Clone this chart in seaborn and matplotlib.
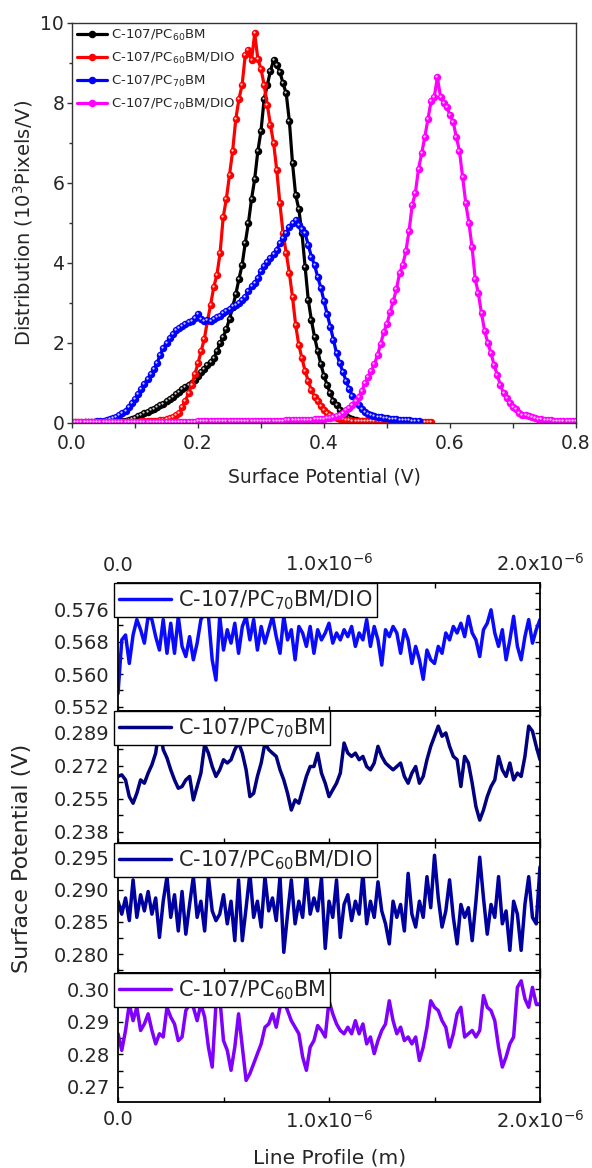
import numpy as np
import matplotlib
matplotlib.use("Agg")
import matplotlib.pyplot as plt
import seaborn as sns
from matplotlib import transforms
from matplotlib.ticker import (MultipleLocator, FixedLocator, FixedFormatter,
                               FormatStrFormatter, AutoMinorLocator)

# ---------------- top chart: surface potential distributions ----------------
DIST_STEP = 0.005  # V between histogram bins

pc60_start = 0.05
pc60_dist = [0.02, 0.03, 0.03, 0.03, 0.03, 0.04, 0.04, 0.06, 0.08, 0.11,
             0.13, 0.17, 0.20, 0.24, 0.28, 0.32, 0.36, 0.40, 0.44, 0.48,
             0.54, 0.60, 0.66, 0.72, 0.78, 0.84, 0.90, 0.95, 1.00, 1.08,
             1.18, 1.28, 1.36, 1.44, 1.52, 1.62, 1.80, 1.99, 2.15, 2.35,
             2.60, 2.90, 3.22, 3.60, 3.95, 4.50, 5.00, 5.60, 6.10, 6.80,
             7.30, 8.10, 8.45, 8.80, 9.07, 8.95, 8.78, 8.49, 8.24, 7.55,
             6.50, 5.70, 5.35, 4.74, 3.91, 3.08, 2.57, 2.15, 1.80, 1.47,
             1.18, 0.95, 0.74, 0.55, 0.44, 0.33, 0.25, 0.17, 0.12, 0.09,
             0.07, 0.05, 0.04, 0.04, 0.03, 0.03, 0.02]

pc60dio_start = 0.0
pc60dio_dist = [0.02, 0.02, 0.02, 0.02, 0.02, 0.02, 0.02, 0.02, 0.03, 0.03,
                0.03, 0.03, 0.03, 0.03, 0.03, 0.03, 0.03, 0.03, 0.03, 0.03,
                0.03, 0.03, 0.04, 0.04, 0.05, 0.05, 0.06, 0.06, 0.07, 0.08,
                0.10, 0.12, 0.15, 0.19, 0.24, 0.40, 0.56, 0.74, 0.95, 1.22,
                1.49, 1.80, 2.10, 2.55, 2.95, 3.40, 3.70, 4.24, 5.15, 5.60,
                6.20, 6.80, 7.60, 8.10, 8.45, 9.20, 9.32, 9.07, 9.74, 9.10,
                8.85, 8.45, 7.95, 7.45, 7.00, 6.32, 5.49, 4.75, 4.25, 3.75,
                3.15, 2.45, 1.95, 1.62, 1.30, 1.05, 0.82, 0.66, 0.54, 0.42,
                0.32, 0.25, 0.20, 0.16, 0.13, 0.11, 0.09, 0.08, 0.07, 0.06,
                0.06, 0.05, 0.05, 0.05, 0.05, 0.04, 0.04, 0.04, 0.04, 0.04,
                0.04, 0.04, 0.04, 0.04, 0.04, 0.04, 0.04, 0.03, 0.03, 0.03,
                0.03, 0.03, 0.03, 0.03, 0.03]

pc70_start = 0.02
pc70_dist = [0.02, 0.02, 0.03, 0.03, 0.04, 0.04, 0.06, 0.07, 0.09, 0.12,
             0.16, 0.20, 0.25, 0.31, 0.40, 0.50, 0.60, 0.72, 0.85, 0.98,
             1.10, 1.22, 1.35, 1.50, 1.70, 1.88, 2.00, 2.12, 2.22, 2.32,
             2.38, 2.42, 2.47, 2.52, 2.56, 2.62, 2.72, 2.60, 2.55, 2.58,
             2.56, 2.60, 2.64, 2.68, 2.74, 2.80, 2.86, 2.92, 2.96, 3.00,
             3.08, 3.16, 3.30, 3.42, 3.50, 3.62, 3.80, 3.92, 4.02, 4.12,
             4.22, 4.33, 4.50, 4.62, 4.74, 4.90, 5.00, 5.08, 4.95, 4.85,
             4.74, 4.45, 4.16, 3.95, 3.65, 3.38, 3.05, 2.72, 2.41, 2.08,
             1.74, 1.49, 1.28, 1.05, 0.85, 0.68, 0.55, 0.44, 0.34, 0.27,
             0.22, 0.19, 0.17, 0.15, 0.14, 0.13, 0.12, 0.11, 0.10, 0.09,
             0.08, 0.08, 0.07, 0.07, 0.06, 0.06, 0.06]

pc70dio_start = 0.0
pc70dio_dist = [0.03, 0.03, 0.03, 0.03, 0.03, 0.03, 0.03, 0.03, 0.03, 0.03,
                0.03, 0.03, 0.03, 0.03, 0.03, 0.03, 0.03, 0.03, 0.03, 0.03,
                0.03, 0.03, 0.03, 0.03, 0.03, 0.03, 0.03, 0.03, 0.03, 0.03,
                0.03, 0.03, 0.03, 0.03, 0.03, 0.03, 0.03, 0.03, 0.03, 0.03,
                0.04, 0.04, 0.04, 0.04, 0.04, 0.04, 0.04, 0.04, 0.04, 0.04,
                0.04, 0.04, 0.04, 0.04, 0.04, 0.05, 0.05, 0.05, 0.05, 0.05,
                0.05, 0.05, 0.05, 0.06, 0.06, 0.06, 0.06, 0.06, 0.07, 0.07,
                0.07, 0.07, 0.07, 0.08, 0.08, 0.08,
                0.08, 0.09, 0.09, 0.10, 0.11, 0.12, 0.13, 0.15, 0.17, 0.21,
                0.26, 0.32, 0.38, 0.46, 0.55, 0.66, 0.80, 0.99, 1.15, 1.30,
                1.47, 1.70, 1.98, 2.28, 2.48, 2.78, 3.05, 3.35, 3.75, 3.95,
                4.30, 4.80, 5.45, 5.75, 6.35, 6.74, 7.15, 7.60, 8.05, 8.15,
                8.64, 8.15, 8.00, 7.90, 7.70, 7.53, 7.15, 6.80, 6.15, 5.50,
                5.00, 4.40, 3.60, 3.24, 2.74, 2.30, 2.00, 1.75, 1.45, 1.20,
                0.95, 0.74, 0.62, 0.50, 0.41, 0.34, 0.26, 0.21, 0.19, 0.17,
                0.15, 0.13, 0.10, 0.09, 0.08, 0.07, 0.07, 0.06, 0.06, 0.06,
                0.05, 0.05, 0.05, 0.05, 0.05]

dist_labels = ["C-107/PC$_{60}$BM", "C-107/PC$_{60}$BM/DIO",
               "C-107/PC$_{70}$BM", "C-107/PC$_{70}$BM/DIO"]
dist_colors = ["#000000", "#ff0000", "#0000ff", "#ff00ff"]

# ---------------- bottom chart: line profiles ----------------
prof_pc70dio = [0.5552, 0.5684, 0.5696, 0.5626, 0.5696, 0.5734, 0.5709, 0.5676, 0.5742, 0.5734,
                0.5692, 0.5659, 0.5734, 0.5651, 0.5725, 0.5651, 0.5742, 0.5668, 0.5643, 0.5692,
                0.5635, 0.5676, 0.5734, 0.5750, 0.5742, 0.5635, 0.5585, 0.5742, 0.5659, 0.5709,
                0.5676, 0.5725, 0.5651, 0.5717, 0.5742, 0.5684, 0.5734, 0.5659, 0.5717, 0.5676,
                0.5709, 0.5742, 0.5692, 0.5651, 0.5742, 0.5684, 0.5709, 0.5635, 0.5717, 0.5701,
                0.5668, 0.5717, 0.5651, 0.5709, 0.5684, 0.5701, 0.5725, 0.5676, 0.5701, 0.5684,
                0.5709, 0.5692, 0.5717, 0.5668, 0.5701, 0.5684, 0.5734, 0.5668, 0.5717, 0.5684,
                0.5622, 0.5709, 0.5692, 0.5717, 0.5701, 0.5651, 0.5709, 0.5684, 0.5626, 0.5668,
                0.5635, 0.5587, 0.5659, 0.5635, 0.5626, 0.5668, 0.5651, 0.5701, 0.5684, 0.5717,
                0.5701, 0.5725, 0.5692, 0.5742, 0.5701, 0.5684, 0.5643, 0.5709, 0.5725, 0.5758,
                0.5701, 0.5668, 0.5709, 0.5635, 0.5684, 0.5742, 0.5668, 0.5635, 0.5692, 0.5734,
                0.5676, 0.5709, 0.5734]

prof_pc70 = [0.2666, 0.2674, 0.2648, 0.2562, 0.2528, 0.2579, 0.2648, 0.2631, 0.2683, 0.2726,
             0.2786, 0.2925, 0.2804, 0.2761, 0.2700, 0.2648, 0.2605, 0.2614, 0.2648, 0.2666,
             0.2545, 0.2614, 0.2683, 0.2830, 0.2786, 0.2717, 0.2666, 0.2700, 0.2752, 0.2735,
             0.2752, 0.2804, 0.2840, 0.2786, 0.2700, 0.2562, 0.2579, 0.2666, 0.2735, 0.2838,
             0.2804, 0.2786, 0.2769, 0.2700, 0.2648, 0.2579, 0.2493, 0.2545, 0.2528, 0.2597,
             0.2666, 0.2717, 0.2717, 0.2785, 0.2683, 0.2631, 0.2562, 0.2597, 0.2631, 0.2683,
             0.2838, 0.2786, 0.2769, 0.2786, 0.2752, 0.2769, 0.2717, 0.2700, 0.2735, 0.2821,
             0.2769, 0.2735, 0.2717, 0.2700, 0.2717, 0.2735, 0.2666, 0.2631, 0.2683, 0.2717,
             0.2631, 0.2666, 0.2752, 0.2821, 0.2873, 0.2925, 0.2873, 0.2890, 0.2821, 0.2769,
             0.2752, 0.2614, 0.2769, 0.2735, 0.2631, 0.2510, 0.2441, 0.2493, 0.2562, 0.2614,
             0.2648, 0.2769, 0.2700, 0.2666, 0.2735, 0.2648, 0.2683, 0.2666, 0.2769, 0.2925,
             0.2899, 0.2821, 0.2752]

prof_pc60dio = [0.2882, 0.2862, 0.2887, 0.2852, 0.2915, 0.2857, 0.2892, 0.2867, 0.2897, 0.2862,
                0.2887, 0.2826, 0.2882, 0.2920, 0.2857, 0.2892, 0.2836, 0.2897, 0.2831, 0.2877,
                0.2920, 0.2857, 0.2882, 0.2836, 0.2920, 0.2867, 0.2852, 0.2862, 0.2892, 0.2847,
                0.2882, 0.2821, 0.2915, 0.2821, 0.2872, 0.2925, 0.2857, 0.2882, 0.2842, 0.2920,
                0.2867, 0.2887, 0.2852, 0.2920, 0.2803, 0.2862, 0.2915, 0.2847, 0.2882, 0.2857,
                0.2925, 0.2862, 0.2887, 0.2867, 0.2918, 0.2809, 0.2882, 0.2857, 0.2915, 0.2826,
                0.2877, 0.2892, 0.2852, 0.2882, 0.2862, 0.2925, 0.2847, 0.2882, 0.2857, 0.2912,
                0.2867, 0.2847, 0.2816, 0.2882, 0.2857, 0.2877, 0.2836, 0.2925, 0.2862, 0.2842,
                0.2882, 0.2857, 0.2920, 0.2872, 0.2953, 0.2887, 0.2842, 0.2867, 0.2915, 0.2857,
                0.2816, 0.2877, 0.2857, 0.2872, 0.2821, 0.2882, 0.2950, 0.2887, 0.2831, 0.2877,
                0.2857, 0.2920, 0.2847, 0.2867, 0.2806, 0.2882, 0.2862, 0.2806, 0.2877, 0.2920,
                0.2857, 0.2847, 0.2935]

prof_pc60 = [0.2863, 0.2812, 0.2873, 0.2954, 0.2903, 0.2944, 0.2873, 0.2893, 0.2924, 0.2873,
             0.2832, 0.2863, 0.2853, 0.2944, 0.2914, 0.2893, 0.2842, 0.2853, 0.2934, 0.2954,
             0.2944, 0.2903, 0.2954, 0.2914, 0.2822, 0.2761, 0.2954, 0.2975, 0.2842, 0.2812,
             0.2751, 0.2822, 0.2924, 0.2822, 0.2720, 0.2741, 0.2771, 0.2802, 0.2832, 0.2883,
             0.2893, 0.2924, 0.2883, 0.2944, 0.2964, 0.2934, 0.2903, 0.2883, 0.2863, 0.2792,
             0.2751, 0.2822, 0.2842, 0.2888, 0.2873, 0.2853, 0.2964, 0.2924, 0.2893, 0.2873,
             0.2863, 0.2883, 0.2863, 0.2903, 0.2863, 0.2893, 0.2832, 0.2853, 0.2802, 0.2842,
             0.2873, 0.2893, 0.2964, 0.2903, 0.2863, 0.2883, 0.2842, 0.2853, 0.2832, 0.2853,
             0.2781, 0.2822, 0.2883, 0.2964, 0.2944, 0.2934, 0.2903, 0.2883, 0.2822, 0.2863,
             0.2924, 0.2944, 0.2853, 0.2863, 0.2873, 0.2853, 0.2873, 0.2980, 0.2944, 0.2934,
             0.2903, 0.2822, 0.2761, 0.2792, 0.2832, 0.2853, 0.3005, 0.3025, 0.2970, 0.2944,
             0.3005, 0.2954, 0.2954]

profile_series = [prof_pc70dio, prof_pc70, prof_pc60dio, prof_pc60]
profile_labels = ["C-107/PC$_{70}$BM/DIO", "C-107/PC$_{70}$BM",
                  "C-107/PC$_{60}$BM/DIO", "C-107/PC$_{60}$BM"]
profile_colors = ["#0a0aff", "#000080", "#0000a0", "#8000ff"]
profile_ylims = [(0.5509, 0.5824), (0.2323, 0.3003), (0.2771, 0.2972), (0.2654, 0.3049)]
profile_yticks = [[0.552, 0.560, 0.568, 0.576], [0.238, 0.255, 0.272, 0.289],
                  [0.280, 0.285, 0.290, 0.295], [0.27, 0.28, 0.29, 0.30]]
profile_yfmt = ["%.3f", "%.3f", "%.3f", "%.2f"]
profile_xticks = [0.0, 0.5e-6, 1.0e-6, 1.5e-6, 2.0e-6]
profile_xticklabels = ["0.0", "", "1.0x10$^{-6}$", "", "2.0x10$^{-6}$"]
PROFILE_LENGTH = 2.0e-6

# ---------------- style ----------------
sns.set_style("ticks")
plt.rcParams["font.family"] = ["DejaVu Sans"]
plt.rcParams["mathtext.fontset"] = "dejavusans"
plt.rcParams["mathtext.default"] = "regular"

W, H = 592, 1168
fig = plt.figure(figsize=(W / 100, H / 100), dpi=100)


def box(left, top, right, bottom):
    return [left / W, 1 - bottom / H, (right - left) / W, (bottom - top) / H]


# ---------------- top panel ----------------
ax = fig.add_axes(box(72, 23, 576, 423))
dists = [(pc60_start, pc60_dist), (pc60dio_start, pc60dio_dist),
         (pc70_start, pc70_dist), (pc70dio_start, pc70dio_dist)]
shine = transforms.offset_copy(ax.transData, fig=fig, x=-0.7, y=0.7, units="points")
for (start, vals), lbl, col in zip(dists, dist_labels, dist_colors):
    x = start + DIST_STEP * np.arange(len(vals))
    sns.lineplot(x=x, y=vals, ax=ax, color=col, linewidth=2.3, marker="o",
                 markersize=5.4, markeredgewidth=0, label=lbl)
    ax.plot(x, vals, "o", color="white", alpha=0.8, markersize=1.6,
            markeredgewidth=0, transform=shine)

ax.set_xlim(0, 0.8)
ax.set_ylim(0, 10)
ax.xaxis.set_major_locator(MultipleLocator(0.2))
ax.xaxis.set_minor_locator(MultipleLocator(0.1))
ax.yaxis.set_major_locator(MultipleLocator(2))
ax.yaxis.set_minor_locator(MultipleLocator(1))
ax.xaxis.set_major_formatter(FormatStrFormatter("%.1f"))
ax.yaxis.set_major_formatter(FormatStrFormatter("%d"))
ax.tick_params(axis="x", which="both", direction="out", length=3.6, width=1,
               labelsize=13.5, pad=4, color="#333333")
ax.tick_params(axis="y", which="major", direction="out", length=3.6, width=1,
               labelsize=13.5, pad=2, color="#333333")
ax.tick_params(axis="y", which="minor", direction="out", length=2.2, width=1,
               color="#333333")
for sp in ax.spines.values():
    sp.set_linewidth(1.0)
    sp.set_color("#333333")
ax.set_xlabel("")
ax.set_ylabel("")
ax.legend(loc="upper left", bbox_to_anchor=(0.0, 1.0), frameon=False,
          fontsize=9.5, handlelength=2.3, handletextpad=0.3, labelspacing=0.6,
          borderaxespad=0.15, borderpad=0.2)
fig.text(324 / W, 1 - 477 / H, "Surface Potential (V)", fontsize=13.5,
         ha="center", va="center")
fig.text(23 / W, 1 - 223 / H, "Distribution (10$^3$Pixels/V)", fontsize=14,
         rotation=90, ha="center", va="center")

# ---------------- stacked line-profile panels ----------------
rows = [(583, 711), (711, 843), (843, 973), (973, 1102)]
for i, (top, bot) in enumerate(rows):
    pax = fig.add_axes(box(118, top, 540, bot))
    vals = profile_series[i]
    x = np.linspace(0, PROFILE_LENGTH, len(vals))
    sns.lineplot(x=x, y=vals, ax=pax, color=profile_colors[i], linewidth=2.5,
                 label=profile_labels[i])
    pax.set_xlim(0, PROFILE_LENGTH)
    pax.set_ylim(*profile_ylims[i])
    pax.yaxis.set_major_locator(FixedLocator(profile_yticks[i]))
    pax.yaxis.set_minor_locator(AutoMinorLocator(2))
    pax.yaxis.set_major_formatter(FormatStrFormatter(profile_yfmt[i]))
    pax.xaxis.set_major_locator(FixedLocator(profile_xticks))
    pax.xaxis.set_major_formatter(FixedFormatter(profile_xticklabels))
    pax.tick_params(axis="both", which="both", direction="in", top=True,
                    right=True, width=1, color="black", length=3.6)
    pax.tick_params(axis="y", labelsize=14, pad=6)
    pax.tick_params(axis="x", labelsize=14, labelbottom=(i == 3),
                    labeltop=(i == 0), pad=6)
    for sp in pax.spines.values():
        sp.set_linewidth(1.3)
        sp.set_color("black")
    pax.set_xlabel("")
    pax.set_ylabel("")
    leg = pax.legend(loc="upper left", bbox_to_anchor=(-4 / 422, 1.0),
                     borderaxespad=0, fontsize=15, handlelength=2.5,
                     handletextpad=0.3, borderpad=0.25, fancybox=False,
                     framealpha=1, edgecolor="black")
    leg.get_frame().set_linewidth(1.0)

fig.text(22 / W, 1 - 858 / H, "Surface Potential (V)", fontsize=16,
         rotation=90, ha="center", va="center")
fig.text(330 / W, 1 - 1158 / H, "Line Profile (m)", fontsize=14.5,
         ha="center", va="center")

fig.savefig("out.png", dpi=100)
